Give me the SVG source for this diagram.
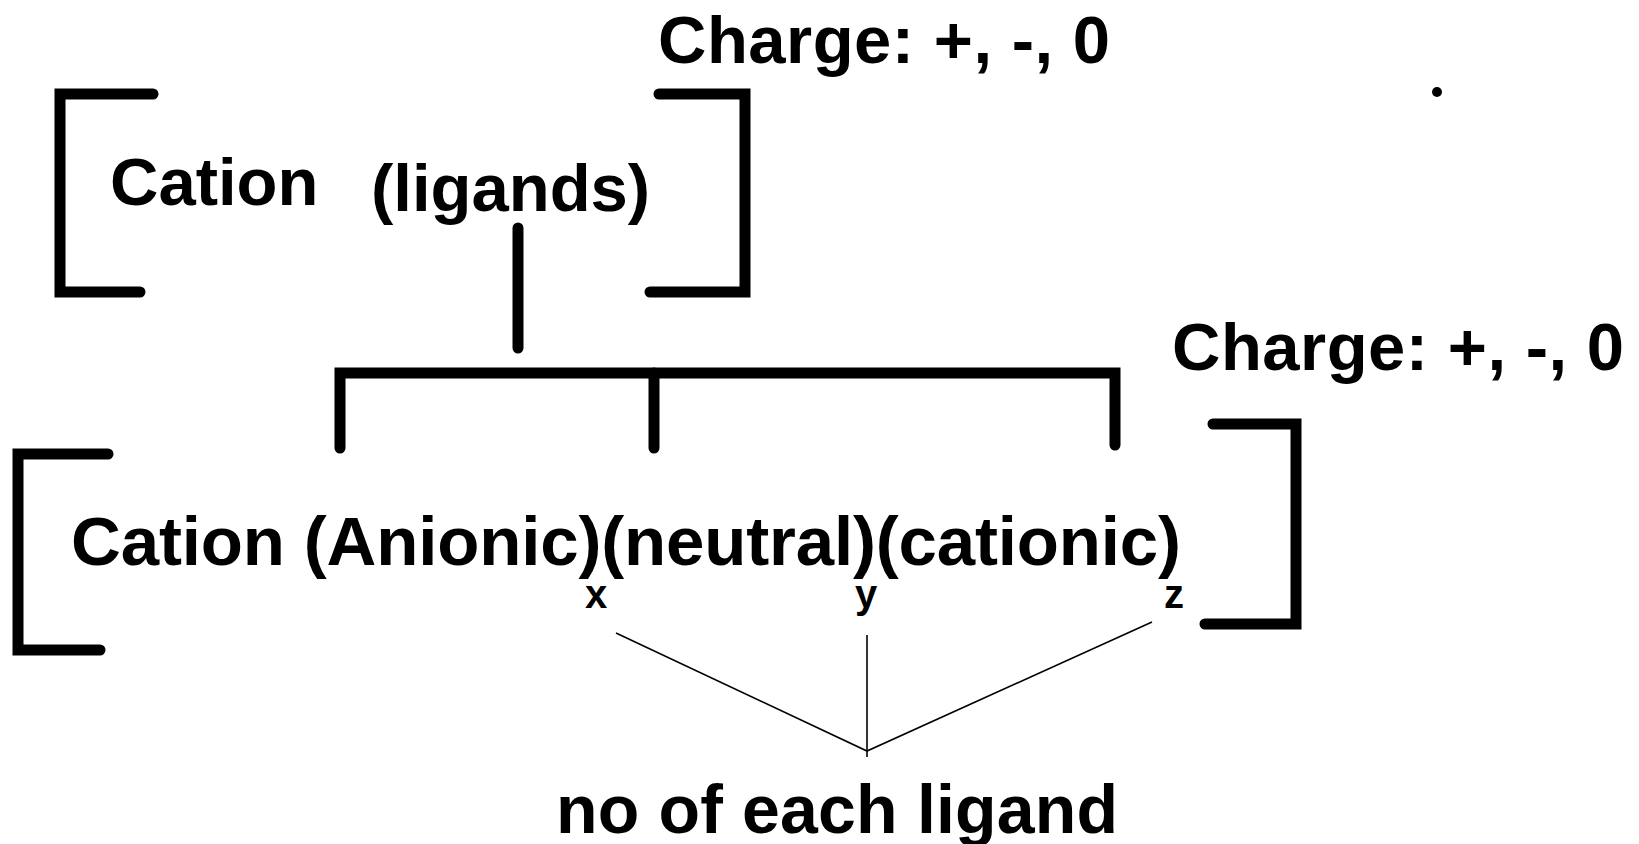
<svg xmlns="http://www.w3.org/2000/svg" width="1639" height="844" viewBox="0 0 1639 844">
<style>
.t{font-family:"Liberation Sans",Arial,sans-serif;font-weight:bold;fill:#000}
.big{font-size:67px}
.sub{font-size:40px}
.br{fill:none;stroke:#000;stroke-width:11;stroke-linecap:round;stroke-linejoin:miter}
.thin{fill:none;stroke:#000;stroke-width:1.6}
</style>
<rect width="1639" height="844" fill="#fff"/>
<g id="top-complex">
<path class="br" d="M153,94 H60 V292 H140"/>
<path class="br" d="M659,94 H745 V292 H650"/>
<text class="t big" x="110" y="205">Cation</text>
<text class="t big" x="371" y="211">(ligands)</text>
</g>
<g id="top-charge">
<text class="t big" x="658" y="63" textLength="452" lengthAdjust="spacing">Charge: +, -, 0</text>
<circle cx="1437" cy="92" r="5" fill="#000"/>
</g>
<g id="bottom-complex">
<path class="br" d="M108,454 H18 V650 H100"/>
<path class="br" d="M1213,424 H1296 V624 H1205"/>
<text class="t" x="71" y="565" font-size="69" textLength="1110" lengthAdjust="spacing">Cation (Anionic)(neutral)(cationic)</text>
<text class="t sub" x="596" y="608" text-anchor="middle">x</text>
<text class="t sub" x="866" y="608" text-anchor="middle">y</text>
<text class="t sub" x="1174" y="608" text-anchor="middle">z</text>
</g>
<g id="bottom-charge">
<text class="t big" x="1172" y="370" textLength="452" lengthAdjust="spacing">Charge: +, -, 0</text>
</g>
<g id="count-label">
<text class="t" x="556" y="833" font-size="68" textLength="562" lengthAdjust="spacing">no of each ligand</text>
</g>
<g id="connectors">
<path class="br" d="M518,228 V348"/>
<path class="br" d="M340,448 V373 H1115 V445"/>
<path class="br" d="M654,373 V448"/>
<path class="thin" d="M616,633 L867,751 L1152,622"/>
<path class="thin" d="M867,635 V757"/>
</g>
</svg>
